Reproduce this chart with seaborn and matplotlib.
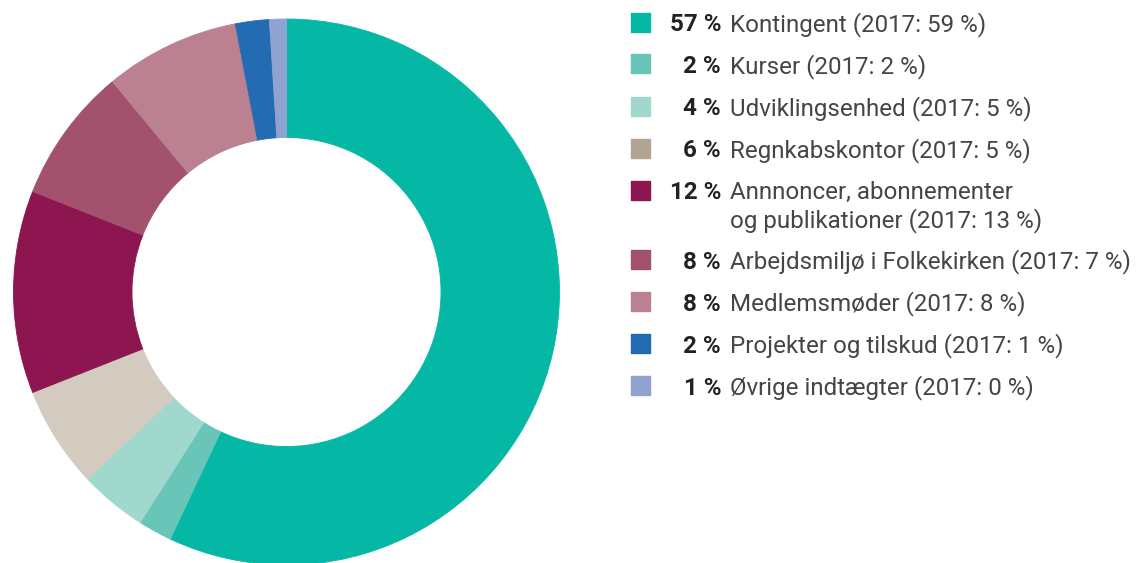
import matplotlib
matplotlib.use("Agg")
import matplotlib.pyplot as plt
import seaborn as sns
from matplotlib.patches import Rectangle

# data
labels = ["Kontingent", "Kurser", "Udviklingsenhed", "Regnkabskontor",
          "Annnoncer, abonnementer\nog publikationer", "Arbejdsmiljø i Folkekirken",
          "Medlemsmøder", "Projekter og tilskud", "Øvrige indtægter"]
share_2018 = [57, 2, 4, 6, 12, 8, 8, 2, 1]
share_2017 = [59, 2, 5, 5, 13, 7, 8, 1, 0]
slice_colors = ["#05b8a5", "#68c5b7", "#a1d8ce", "#d3cbc0", "#8d1651",
                "#a3526e", "#bb8190", "#236bb3", "#90a3d0"]
legend_colors = ["#05b8a5", "#68c5b7", "#a1d8ce", "#b1a592", "#8d1651",
                 "#a3526e", "#bb8190", "#236bb3", "#90a3d0"]

sns.set_theme(style="white")
plt.rcParams['font.family'] = ['Roboto', 'DejaVu Sans']

W, H = 1146, 563
fig = plt.figure(figsize=(W / 100, H / 100), dpi=100)

# donut
cx, cy, r = 286.5, 292, 273
ax = fig.add_axes([(cx - r) / W, (H - cy - r) / H, 2 * r / W, 2 * r / H])
wedges, _ = ax.pie(share_2018, colors=slice_colors, startangle=90, counterclock=False,
                   radius=1, wedgeprops=dict(width=0.434, linewidth=0.6))
for w in wedges:
    w.set_edgecolor(w.get_facecolor())
ax.set_aspect("auto")
ax.set_xlim(-1, 1)
ax.set_ylim(-1, 1)
ax.axis("off")

# legend drawn by hand
fs = 17.4
y = 22
for lab, v18, v17, col in zip(labels, share_2018, share_2017, legend_colors):
    fig.patches.append(Rectangle((631 / W, (H - y - 9.5) / H), 19 / W, 19 / H,
                                 transform=fig.transFigure, color=col))
    fig.text(721 / W, (H - y - 9) / H, f"{v18} %", ha="right", va="baseline",
             fontsize=fs, fontweight="bold", color="#222222")
    lines = lab.split("\n")
    for i, line in enumerate(lines):
        txt = line + (f" (2017: {v17} %)" if i == len(lines) - 1 else "")
        fig.text(730 / W, (H - y - 9 - 28 * i) / H, txt, ha="left", va="baseline",
                 fontsize=fs, color="#454545")
    y += 42 + 27.6 * (len(lines) - 1)

fig.savefig("out.png", dpi=100)
